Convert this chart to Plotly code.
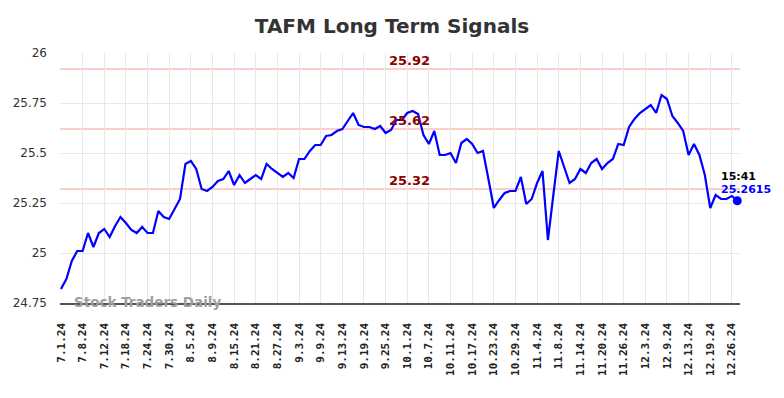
import plotly.graph_objects as go

dates = [
    "7.1.24","7.2.24","7.3.24","7.5.24","7.8.24","7.9.24","7.10.24","7.11.24","7.12.24","7.15.24",
    "7.16.24","7.17.24","7.18.24","7.19.24","7.22.24","7.23.24","7.24.24","7.25.24","7.26.24","7.29.24",
    "7.30.24","7.31.24",
    "8.1.24","8.2.24","8.5.24","8.6.24","8.7.24","8.8.24","8.9.24","8.12.24","8.13.24","8.14.24",
    "8.15.24","8.16.24","8.19.24","8.20.24","8.21.24","8.22.24","8.23.24","8.26.24","8.27.24","8.28.24",
    "8.29.24","8.30.24",
    "9.3.24","9.4.24","9.5.24","9.6.24","9.9.24","9.10.24","9.11.24","9.12.24","9.13.24","9.16.24",
    "9.17.24","9.18.24","9.19.24","9.20.24","9.23.24","9.24.24","9.25.24","9.26.24","9.27.24","9.30.24",
    "10.1.24","10.2.24","10.3.24","10.4.24","10.7.24","10.8.24","10.9.24","10.10.24","10.11.24","10.14.24",
    "10.15.24","10.16.24","10.17.24","10.18.24","10.21.24","10.22.24","10.23.24","10.24.24","10.25.24","10.28.24",
    "10.29.24","10.30.24","10.31.24",
    "11.1.24","11.4.24","11.5.24","11.6.24","11.7.24","11.8.24","11.11.24","11.12.24","11.13.24","11.14.24",
    "11.15.24","11.18.24","11.19.24","11.20.24","11.21.24","11.22.24","11.25.24","11.26.24","11.27.24","11.29.24",
    "12.2.24","12.3.24","12.4.24","12.5.24","12.6.24","12.9.24","12.10.24","12.11.24","12.12.24","12.13.24",
    "12.16.24","12.17.24","12.18.24","12.19.24","12.20.24","12.23.24","12.24.24","12.26.24","12.27.24",
]

prices = [
    24.82, 24.87, 24.96, 25.01, 25.01, 25.10, 25.03, 25.10, 25.12, 25.08,
    25.135, 25.18, 25.15, 25.115, 25.10, 25.13, 25.10, 25.10, 25.21, 25.18,
    25.17, 25.22, 25.27, 25.445, 25.46, 25.42, 25.32, 25.31, 25.33, 25.36,
    25.37, 25.41, 25.34, 25.39, 25.35, 25.37, 25.39, 25.37, 25.445, 25.42,
    25.40, 25.38, 25.40, 25.375, 25.47, 25.47, 25.51, 25.54, 25.54, 25.585,
    25.59, 25.61, 25.62, 25.66, 25.70, 25.64, 25.63, 25.63, 25.62, 25.635,
    25.60, 25.615, 25.665, 25.665, 25.70, 25.71, 25.695, 25.59, 25.545, 25.61,
    25.49, 25.49, 25.50, 25.45, 25.55, 25.57, 25.545, 25.50, 25.51, 25.37,
    25.225, 25.265, 25.30, 25.31, 25.31, 25.38, 25.245, 25.27, 25.35, 25.41,
    25.065, 25.29, 25.51, 25.43, 25.35, 25.37, 25.42, 25.40, 25.45, 25.47,
    25.42, 25.45, 25.47, 25.545, 25.54, 25.63, 25.67, 25.70, 25.72, 25.74,
    25.70, 25.79, 25.77, 25.685, 25.65, 25.61, 25.49, 25.545, 25.49, 25.39,
    25.225, 25.29, 25.27, 25.27, 25.285, 25.2615,
]

signal_levels = [25.92, 25.62, 25.32]
tick_labels = dates[::4]
y_ticks = [24.75, 25, 25.25, 25.5, 25.75, 26]
y_tick_text = ["24.75", "25", "25.25", "25.5", "25.75", "26"]
last_time = "15:41"
last_price_text = "25.2615"
title_text = "TAFM Long Term Signals"
watermark = "Stock Traders Daily"

fig = go.Figure()

for lvl in signal_levels:
    fig.add_shape(type="line", xref="paper", x0=0, x1=1, yref="y", y0=lvl, y1=lvl,
                  line=dict(color="#ffcccc", width=2), layer="below")

fig.add_trace(go.Scatter(
    x=dates, y=prices, mode="lines",
    line=dict(color="#0000ff", width=2.2),
    hoverinfo="skip", showlegend=False,
))
fig.add_trace(go.Scatter(
    x=[dates[-1]], y=[prices[-1]], mode="markers",
    marker=dict(color="#0000ff", size=9),
    hoverinfo="skip", showlegend=False, cliponaxis=False,
))

annotations = []
for lvl in signal_levels:
    annotations.append(dict(
        x=dates[64], y=lvl, xref="x", yref="y", text=f"{lvl:.2f}",
        showarrow=False, xanchor="center", yanchor="bottom", yshift=-1, xshift=2,
        font=dict(family="DejaVu Sans", size=13, color="#8b0000", weight="bold"),
    ))
annotations.append(dict(
    x=dates[-1], y=prices[-1], xref="x", yref="y", text=last_time,
    showarrow=False, xanchor="left", yanchor="middle", xshift=-18, yshift=24,
    font=dict(family="DejaVu Sans", size=11, color="#000000", weight="bold"),
))
annotations.append(dict(
    x=dates[-1], y=prices[-1], xref="x", yref="y", text=last_price_text,
    showarrow=False, xanchor="left", yanchor="middle", xshift=-18, yshift=11,
    font=dict(family="DejaVu Sans", size=11, color="#0000ff", weight="bold"),
))
annotations.append(dict(
    x=0.017, y=0, xref="paper", yref="paper", text=watermark,
    showarrow=False, xanchor="left", yanchor="middle", yshift=1,
    font=dict(family="DejaVu Sans", size=13.5, color="#a0a0a0", weight="bold"),
))

fig.update_layout(
    width=784, height=398,
    margin=dict(l=60, r=44, t=53, b=95, autoexpand=False),
    paper_bgcolor="white", plot_bgcolor="white",
    title=dict(text=title_text, x=0.5, xanchor="center", y=1 - 26 / 398, yanchor="middle",
               font=dict(family="DejaVu Sans", size=20, color="#333333", weight="bold")),
    annotations=annotations,
    showlegend=False,
)
fig.update_xaxes(
    type="category", categoryorder="array", categoryarray=dates,
    range=[-0.18, 125.5],
    tickmode="array", tickvals=tick_labels, ticktext=tick_labels,
    tickangle=-90, ticks="", ticklabelstandoff=14,
    tickfont=dict(family="DejaVu Sans Mono", size=11, color="#222222", weight="bold"),
    showgrid=True, gridcolor="#e8e8e8", gridwidth=1,
    showline=True, linecolor="#555555", linewidth=1.5,
    zeroline=False, fixedrange=True, automargin=False,
)
fig.update_yaxes(
    range=[24.75, 26],
    tickmode="array", tickvals=y_ticks, ticktext=y_tick_text,
    ticks="", ticklabelstandoff=12,
    tickfont=dict(family="DejaVu Sans", size=12, color="#333333"),
    showgrid=True, gridcolor="#e8e8e8", gridwidth=1,
    showline=False, zeroline=False, fixedrange=True, automargin=False,
)

fig.write_html(
    "out.html",
    config={"displayModeBar": False, "staticPlot": True},
    post_script="document.body.style.margin='0';document.body.style.overflow='hidden';",
)
